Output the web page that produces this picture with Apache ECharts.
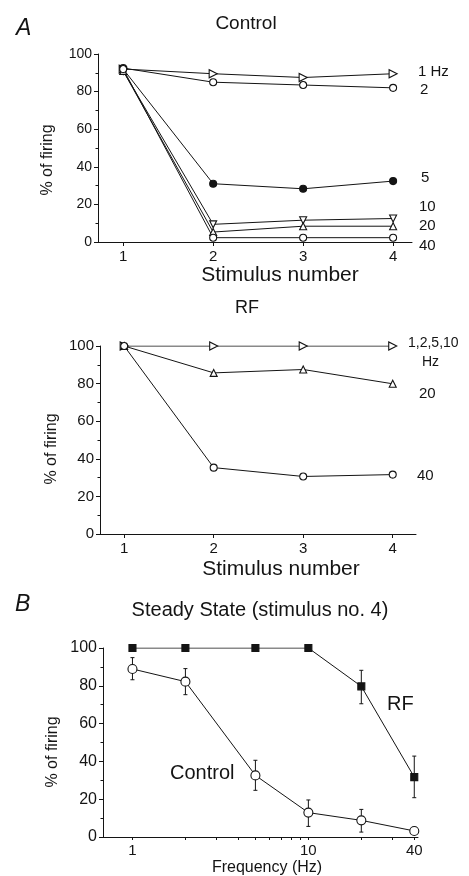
<!DOCTYPE html>
<html>
<head>
<meta charset="utf-8">
<script src="https://cdn.jsdelivr.net/npm/echarts@6/dist/echarts.min.js"></script>
<style>
  html, body { margin: 0; padding: 0; background: #fff; }
  #chart { width: 469px; height: 876px; }
</style>
</head>
<body>
<div id="chart"></div>
<script>
// A, Control: % of firing at each stimulus, one array per stimulation frequency
const stimuli = [1, 2, 3, 4];
const control1Hz = [92, 89.5, 87.5, 89.5];
const control2Hz = [92.5, 85, 83.5, 82];
const control5Hz = [92, 31, 28.3, 32.4];
const control10Hz = [91, 9.4, 11.6, 12.5];
const control20Hz = [91, 5.3, 8.4, 8.4];
const control40Hz = [92, 2.3, 2.3, 2.3];

// A, RF
const rf1to10Hz = [100, 100, 100, 100];
const rf20Hz = [100, 85.7, 87.5, 79.9];
const rf40Hz = [100, 35.3, 30.6, 31.6];

// B, steady state at stimulus no. 4 (mean, lower and upper error)
const freqs = [1, 2, 5, 10, 20, 40];
const ssRF = [100, 100, 100, 100, 79.7, 31.7];
const ssRFLow = [null, null, null, null, 70.5, 20.8];
const ssRFHigh = [null, null, null, null, 88.2, 42.8];
const ssControl = [88.9, 82.2, 32.6, 12.9, 8.8, 3.2];
const ssControlLow = [83.2, 75.3, 24.7, 5.6, 2.6, 2.4];
const ssControlHigh = [94.9, 89.1, 40.6, 19.6, 14.6, 4.4];

const stimTicks = [1, 2, 3, 4];
const freqLabels = [1, 10, 40];
const freqTicks = [1, 2, 3, 4, 5, 6, 7, 8, 9, 10, 20, 30, 40];

const INK = "#141414";
const FONT = "'Liberation Sans', Arial, sans-serif";

const pts = (xs, ys) => xs.map((x, i) => [x, ys[i]]);

function line(axis, data, symbol, size, filled, rotate) {
  return {
    type: "line",
    xAxisIndex: axis,
    yAxisIndex: axis,
    data: data,
    symbol: symbol,
    symbolSize: size,
    symbolRotate: rotate || 0,
    showAllSymbol: true,
    animation: false,
    lineStyle: { color: INK, width: 1 },
    itemStyle: { color: filled ? INK : "#fff", borderColor: INK, borderWidth: 1.1 },
    emphasis: { disabled: true },
    z: 3
  };
}

function errorBars(axis, xs, lo, hi) {
  let data = [];
  xs.forEach((x, i) => {
    if (lo[i] != null) data.push([x, lo[i], hi[i]]);
  });
  return {
    type: "custom",
    xAxisIndex: axis,
    yAxisIndex: axis,
    data: data,
    animation: false,
    z: 2,
    renderItem: (params, api) => {
      const a = api.coord([api.value(0), api.value(1)]);
      const b = api.coord([api.value(0), api.value(2)]);
      const st = { stroke: INK, lineWidth: 1 };
      return {
        type: "group",
        children: [
          { type: "line", shape: { x1: a[0], y1: a[1], x2: b[0], y2: b[1] }, style: st },
          { type: "line", shape: { x1: a[0] - 2, y1: a[1], x2: a[0] + 2, y2: a[1] }, style: st },
          { type: "line", shape: { x1: b[0] - 2, y1: b[1], x2: b[0] + 2, y2: b[1] }, style: st }
        ]
      };
    }
  };
}

function yAxis(gi, fs) {
  return {
    type: "value",
    gridIndex: gi,
    min: 0,
    max: 100,
    interval: 20,
    splitLine: { show: false },
    axisLine: { show: true, lineStyle: { color: INK, width: 1 } },
    axisTick: { show: true, length: 4, lineStyle: { color: INK } },
    minorTick: { show: true, splitNumber: 2, length: 2.5, lineStyle: { color: INK } },
    axisLabel: { color: INK, fontFamily: FONT, fontSize: fs, margin: 6 }
  };
}

function stimAxis(gi, min, max) {
  return {
    type: "value",
    gridIndex: gi,
    min: min,
    max: max,
    splitLine: { show: false },
    axisLine: { show: true, onZero: false, lineStyle: { color: INK, width: 1 } },
    axisTick: { show: true, length: 4, customValues: stimTicks, lineStyle: { color: INK } },
    axisLabel: { color: INK, fontFamily: FONT, fontSize: 15, margin: 7, customValues: stimTicks }
  };
}

function txt(text, x, y, size, opts) {
  return Object.assign({
    type: "text",
    x: x,
    y: y,
    style: {
      text: text,
      fill: INK,
      font: size + "px " + FONT,
      align: "left",
      verticalAlign: "middle"
    }
  }, opts || {});
}

function ctxt(text, x, y, size) {
  let t = txt(text, x, y, size);
  t.style.align = "center";
  return t;
}

function vtxt(text, x, y, size) {
  let t = ctxt(text, x, y, size);
  t.rotation = Math.PI / 2;
  return t;
}

const option = {
  backgroundColor: "#fff",
  animation: false,
  grid: [
    { left: 98, right: 57, top: 54, bottom: 634 },
    { left: 100, right: 53, top: 346, bottom: 342 },
    { left: 103, right: 51, top: 648, bottom: 39 }
  ],
  xAxis: [
    stimAxis(0, 0.72, 4.21),
    stimAxis(1, 0.73, 4.26),
    {
      type: "log",
      logBase: 10,
      gridIndex: 2,
      min: 0.68,
      max: 42,
      splitLine: { show: false },
      axisLine: { show: true, onZero: false, lineStyle: { color: INK, width: 1 } },
      axisTick: { show: true, length: 3, customValues: freqTicks, lineStyle: { color: INK } },
      axisLabel: { color: INK, fontFamily: FONT, fontSize: 15, margin: 6, customValues: freqLabels }
    }
  ],
  yAxis: [yAxis(0, 14), yAxis(1, 15), yAxis(2, 16)],
  series: [
    line(0, pts(stimuli, control1Hz), "triangle", 8, false, -90),
    line(0, pts(stimuli, control2Hz), "circle", 7, false),
    line(0, pts(stimuli, control5Hz), "circle", 7, true),
    line(0, pts(stimuli, control10Hz), "triangle", 7, false, 180),
    line(0, pts(stimuli, control20Hz), "triangle", 7, false),
    line(0, pts(stimuli, control40Hz), "circle", 7, false),

    line(1, pts(stimuli, rf1to10Hz), "triangle", 8, false, -90),
    line(1, pts(stimuli, rf20Hz), "triangle", 7, false),
    line(1, pts(stimuli, rf40Hz), "circle", 7, false),

    errorBars(2, freqs, ssRFLow, ssRFHigh),
    errorBars(2, freqs, ssControlLow, ssControlHigh),
    line(2, pts(freqs, ssRF), "rect", 7, true),
    line(2, pts(freqs, ssControl), "circle", 9, false)
  ],
  graphic: [
    txt("A", 16, 29, 23, { style: { text: "A", fill: INK, font: "italic 23px " + FONT, verticalAlign: "middle" } }),
    ctxt("Control", 246, 24, 19),
    txt("1 Hz", 418, 72, 15),
    txt("2", 420, 90, 15),
    txt("5", 421, 178, 15),
    txt("10", 419, 207, 15),
    txt("20", 419, 226, 15),
    txt("40", 419, 246, 15),
    ctxt("Stimulus number", 280, 275, 21),
    vtxt("% of firing", 48, 160, 16),

    ctxt("RF", 247, 308, 18),
    txt("1,2,5,10", 408, 343, 14),
    txt("Hz", 422, 362, 14),
    txt("20", 419, 394, 15),
    txt("40", 417, 476, 15),
    ctxt("Stimulus number", 281, 569, 21),
    vtxt("% of firing", 52, 449, 16),

    txt("B", 15, 605, 23, { style: { text: "B", fill: INK, font: "italic 23px " + FONT, verticalAlign: "middle" } }),
    ctxt("Steady State (stimulus no. 4)", 260, 610, 20),
    txt("RF", 387, 704, 20),
    txt("Control", 170, 773, 20),
    ctxt("Frequency (Hz)", 267, 868, 16),
    vtxt("% of firing", 53, 752, 16)
  ]
};

echarts.init(document.getElementById("chart"), null, { renderer: "canvas" }).setOption(option);
</script>
</body>
</html>
